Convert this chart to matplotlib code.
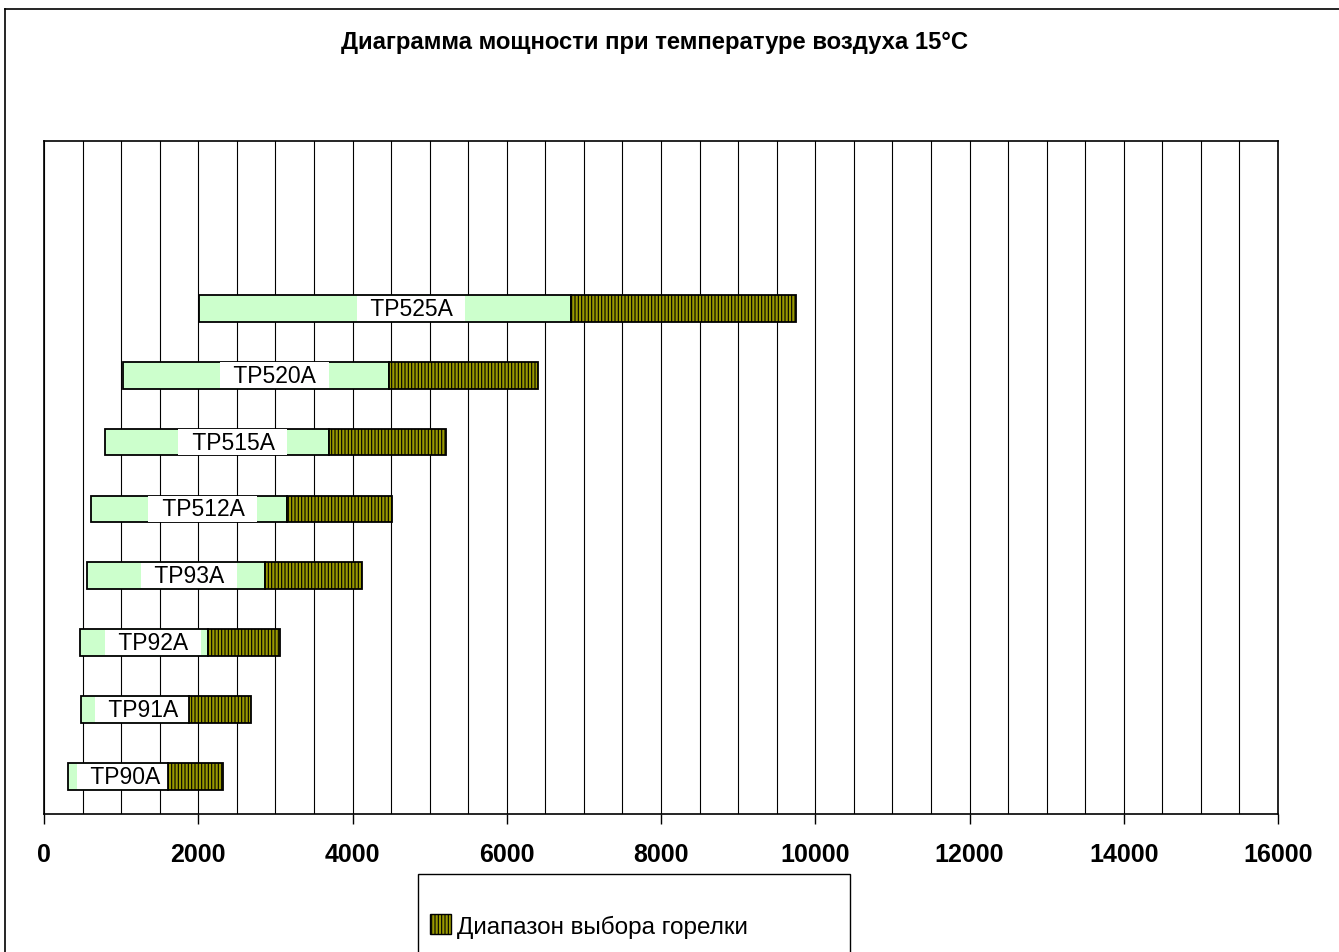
import numpy as np
import matplotlib
matplotlib.use("Agg")
import matplotlib.pyplot as plt
from matplotlib.lines import Line2D
from matplotlib.patches import Patch, Rectangle

plt.rcParams['font.family'] = ['Liberation Sans', 'DejaVu Sans']
plt.rcParams['hatch.linewidth'] = 0.8

# burner models, bottom to top
models = ['TP90A', 'TP91A', 'TP92A', 'TP93A', 'TP512A', 'TP515A', 'TP520A', 'TP525A']
# power values
p_min = [310, 480, 470, 560, 610, 790, 1020, 2010]
p_mid = [1610, 1880, 2130, 2870, 3150, 3700, 4470, 6830]
p_max = [2320, 2680, 3060, 4120, 4510, 5210, 6400, 9750]

title = "Диаграмма мощности при температуре воздуха 15°С"
legend_label = "Диапазон выбора горелки"
x_ticks = np.arange(0, 16001, 2000)

green = '#CCFFCC'
olive = '#999900'

fig = plt.figure(figsize=(13.39, 9.53), dpi=100)
ax = fig.add_axes([44 / 1339, 1 - 815 / 953, (1278 - 44) / 1339, (815 - 142) / 953])

y = np.arange(len(models))
lo = np.array(p_min)
mid = np.array(p_mid)
hi = np.array(p_max)

# first segment invisible, then green, then hatched olive
ax.barh(y, lo, height=0.4, color='none', edgecolor='none')
ax.barh(y, mid - lo, left=lo, height=0.4, color=green, edgecolor='black', linewidth=1.3, zorder=3)
ax.barh(y, hi - mid, left=mid, height=0.4, color=olive, edgecolor='black',
        hatch='|||||', linewidth=1.3, zorder=5)

# labels sit over the green part, under the hatched part
for yi, a, b, name in zip(y, lo, mid, models):
    ax.text((a + b) / 2 + 0.07 * (b - a), yi, f"  {name}  ", ha='center', va='center',
            fontsize=16.5, zorder=4,
            bbox=dict(boxstyle='square,pad=0.05', facecolor='white', edgecolor='none'))

ax.set_xlim(0, 16000)
ax.set_ylim(-0.56, 9.5)
ax.set_xticks(x_ticks)
ax.set_xticks(np.arange(0, 16001, 500), minor=True)
ax.set_yticks([])
ax.xaxis.grid(True, which='both', color='black', linewidth=0.8)
ax.set_axisbelow(True)
ax.tick_params(axis='x', which='major', direction='out', length=7, width=1, pad=13,
               labelsize=18)
ax.tick_params(axis='x', which='minor', length=0)
for lab in ax.get_xticklabels():
    lab.set_fontweight('bold')
for s in ax.spines.values():
    s.set_color('black')
    s.set_linewidth(1.2)

fig.text(0.489, 1 - 42 / 953, title, ha='center', va='center', fontsize=17.2,
         fontweight='bold')

# outer chart frame (cut off at right and bottom)
fig.add_artist(Line2D([5 / 1339, 1.0], [1 - 10 / 953] * 2, transform=fig.transFigure,
                      color='black', linewidth=1.2))
fig.add_artist(Line2D([5 / 1339] * 2, [0.0, 1 - 10 / 953], transform=fig.transFigure,
                      color='black', linewidth=1.2))

# legend box, running past the bottom edge
fig.add_artist(Rectangle((418 / 1339, -0.05), 432 / 1339, 0.05 + 1 - 875 / 953,
                         transform=fig.transFigure, fill=False, edgecolor='black',
                         linewidth=1))
handle = Patch(facecolor=olive, edgecolor='black', hatch='|||||', linewidth=1)
fig.legend([handle], [legend_label], loc='center left',
           bbox_to_anchor=(430 / 1339, 1 - 927 / 953), frameon=False,
           fontsize=17.5, borderpad=0, borderaxespad=0, handlelength=0.85,
           handleheight=0.85, handletextpad=0.25)

fig.savefig("out.png", dpi=100)
